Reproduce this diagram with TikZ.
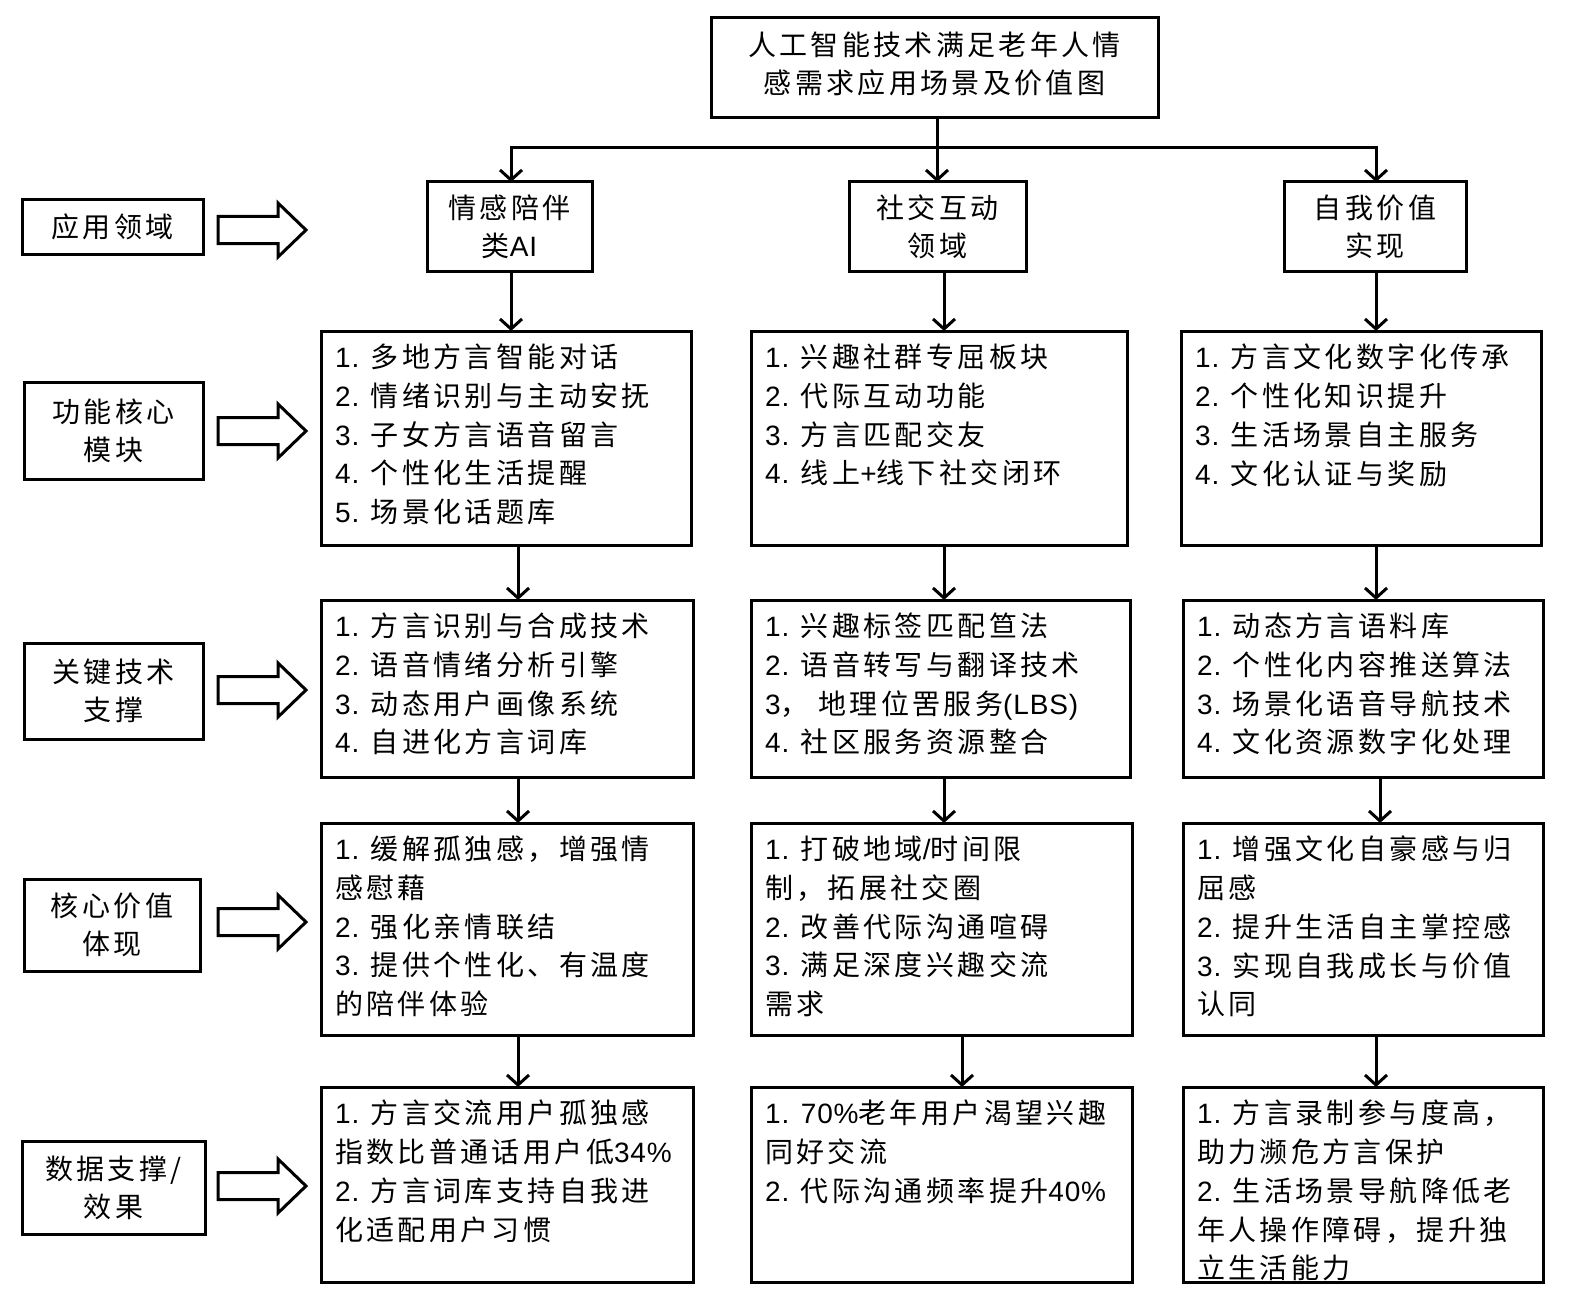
\documentclass[tikz,border=0pt]{standalone}
\usepackage{fontspec}
\setmainfont{Noto Sans CJK SC}[LetterSpace=12]
\newfontfamily\latfont{Liberation Sans}[LetterSpace=3]
\newcommand{\latn}[1]{{\latfont #1}}
\usetikzlibrary{arrows.meta}
\begin{document}
\begin{tikzpicture}[x=1pt,y=-1pt,
  box/.style={draw, line width=3pt, inner sep=0pt, outer sep=0pt},
  txt/.style={anchor=north west, inner sep=0pt, align=left, font=\fontsize{28}{38.7}\selectfont},
  ctr/.style={align=center, font=\fontsize{28}{38}\selectfont},
  arr/.style={line width=3pt, line join=miter, -{Straight Barb[length=10pt,width=22pt]}},
  barrow/.style={draw, line width=3pt, line join=miter}]
\fill[white] (0,0) rectangle (1571,1300);
\useasboundingbox (0,0) rectangle (1571,1300);

% column coordinates
\coordinate (ca1) at (511,0);
\coordinate (ca2) at (518,0);
\coordinate (cb1) at (937,0);
\coordinate (cb2) at (944,0);
\coordinate (cb3) at (962,0);
\coordinate (cc1) at (1376,0);
\coordinate (cc2) at (1380,0);
\coordinate (jy) at (0,148);

% title
\node[box, ctr, minimum width=447pt, minimum height=100pt, text depth=10pt] (title) at (934.5,68) {人工智能技术满足老年人情\\感需求应用场景及价值图};

% level 1
\node[box, ctr, minimum width=165pt, minimum height=89pt] (l1a) at (509.5,226.5) {情感陪伴\\类\latn{AI}};
\node[box, ctr, minimum width=177pt, minimum height=89pt] (l1b) at (937.5,226.5) {社交互动\\领域};
\node[box, ctr, minimum width=182pt, minimum height=89pt] (l1c) at (1375,226.5) {自我价值\\实现};

% left labels
\node[box, ctr, minimum width=181pt, minimum height=54pt] (la) at (112.5,227) {应用领域};
\node[box, ctr, minimum width=179pt, minimum height=97pt] (lb) at (113.5,430.5) {功能核心\\模块};
\node[box, ctr, minimum width=179pt, minimum height=96pt] (lc) at (113.5,691) {关键技术\\支撑};
\node[box, ctr, minimum width=176pt, minimum height=92pt] (ld) at (112,925) {核心价值\\体现};
\node[box, ctr, minimum width=183pt, minimum height=93pt] (le) at (113.5,1187.5) {数据支撑/\\效果};

% block arrows
\foreach \yy in {230,431,690,922,1186}{
  \draw[barrow] (218,\yy-13.5) -- (278,\yy-13.5) -- (278,\yy-27) -- (306,\yy)
     -- (278,\yy+27) -- (278,\yy+13.5) -- (218,\yy+13.5) -- cycle;
}

% level 2
\node[box, minimum width=370pt, minimum height=214pt] (l2a) at (506,438) {};
\node[box, minimum width=376pt, minimum height=214pt] (l2b) at (939,438) {};
\node[box, minimum width=360pt, minimum height=214pt] (l2c) at (1361,438) {};
\node[txt] (t2a) at ([xshift=14pt,yshift=-13pt]l2a.north west) {\latn{1. }多地方言智能对话\\\latn{2. }情绪识别与主动安抚\\\latn{3. }子女方言语音留言\\\latn{4. }个性化生活提醒\\\latn{5. }场景化话题库};
\node[txt] (t2b) at ([xshift=14pt,yshift=-13pt]l2b.north west) {\latn{1. }兴趣社群专屈板块\\\latn{2. }代际互动功能\\\latn{3. }方言匹配交友\\\latn{4. }线上\latn{+}线下社交闭环};
\node[txt] (t2c) at ([xshift=14pt,yshift=-13pt]l2c.north west) {\latn{1. }方言文化数字化传承\\\latn{2. }个性化知识提升\\\latn{3. }生活场景自主服务\\\latn{4. }文化认证与奖励};

% level 3
\node[box, minimum width=372pt, minimum height=177pt] (l3a) at (507,688.5) {};
\node[box, minimum width=379pt, minimum height=177pt] (l3b) at (940.5,688.5) {};
\node[box, minimum width=360pt, minimum height=177pt] (l3c) at (1363,688.5) {};
\node[txt] (t3a) at ([xshift=14pt,yshift=-13pt]l3a.north west) {\latn{1. }方言识别与合成技术\\\latn{2. }语音情绪分析引擎\\\latn{3. }动态用户画像系统\\\latn{4. }自进化方言词库};
\node[txt] (t3b) at ([xshift=14pt,yshift=-13pt]l3b.north west) {\latn{1. }兴趣标签匹配笪法\\\latn{2. }语音转写与翻译技术\\\latn{3}， 地理位罟服务\latn{(LBS)}\\\latn{4. }社区服务资源整合};
\node[txt] (t3c) at ([xshift=14pt,yshift=-13pt]l3c.north west) {\latn{1. }动态方言语料库\\\latn{2. }个性化内容推送算法\\\latn{3. }场景化语音导航技术\\\latn{4. }文化资源数字化处理};

% level 4
\node[box, minimum width=372pt, minimum height=212pt] (l4a) at (507,929) {};
\node[box, minimum width=381pt, minimum height=212pt] (l4b) at (941.5,929) {};
\node[box, minimum width=360pt, minimum height=212pt] (l4c) at (1363,929) {};
\node[txt] (t4a) at ([xshift=14pt,yshift=-13pt]l4a.north west) {\latn{1. }缓解孤独感，增强情\\感慰藉\\\latn{2. }强化亲情联结\\\latn{3. }提供个性化、有温度\\的陪伴体验};
\node[txt] (t4b) at ([xshift=14pt,yshift=-13pt]l4b.north west) {\latn{1. }打破地域\latn{/}时间限\\制，拓展社交圈\\\latn{2. }改善代际沟通喧碍\\\latn{3. }满足深度兴趣交流\\需求};
\node[txt] (t4c) at ([xshift=14pt,yshift=-13pt]l4c.north west) {\latn{1. }增强文化自豪感与归\\屈感\\\latn{2. }提升生活自主掌控感\\\latn{3. }实现自我成长与价值\\认同};

% level 5
\node[box, minimum width=372pt, minimum height=195pt] (l5a) at (507,1184.5) {};
\node[box, minimum width=381pt, minimum height=195pt] (l5b) at (941.5,1184.5) {};
\node[txt] (t5a) at ([xshift=14pt,yshift=-13pt]l5a.north west) {\latn{1. }方言交流用户孤独感\\指数比普通话用户低\latn{34\%}\\\latn{2. }方言词库支持自我进\\化适配用户习惯};
\node[txt] (t5b) at ([xshift=14pt,yshift=-13pt]l5b.north west) {\latn{1. 70\%}老年用户渴望兴趣\\同好交流\\\latn{2. }代际沟通频率提升\latn{40\%}};
\begin{scope}
\clip (1183,1087) rectangle (1543,1282);
\node[txt] (t5c) at (1197,1100) {\latn{1. }方言录制参与度高，\\助力濒危方言保护\\\latn{2. }生活场景导航降低老\\年人操作障碍，提升独\\立生活能力};
\end{scope}
\node[box, minimum width=360pt, minimum height=195pt] (l5c) at (1363,1184.5) {};

% connectors
\draw[arr] (title.south -| cb1) -- (l1b.north -| cb1);
\draw[arr] (cc1 |- jy) -- (ca1 |- jy) -- (l1a.north -| ca1);
\draw[arr] (ca1 |- jy) -- (cc1 |- jy) -- (l1c.north -| cc1);

\draw[arr] (l1a.south -| ca1) -- (l2a.north -| ca1);
\draw[arr] (l1b.south -| cb2) -- (l2b.north -| cb2);
\draw[arr] (l1c.south -| cc1) -- (l2c.north -| cc1);

\draw[arr] (l2a.south -| ca2) -- (l3a.north -| ca2);
\draw[arr] (l2b.south -| cb2) -- (l3b.north -| cb2);
\draw[arr] (l2c.south -| cc1) -- (l3c.north -| cc1);

\draw[arr] (l3a.south -| ca2) -- (l4a.north -| ca2);
\draw[arr] (l3b.south -| cb2) -- (l4b.north -| cb2);
\draw[arr] (l3c.south -| cc2) -- (l4c.north -| cc2);

\draw[arr] (l4a.south -| ca2) -- (l5a.north -| ca2);
\draw[arr] (l4b.south -| cb3) -- (l5b.north -| cb3);
\draw[arr] (l4c.south -| cc1) -- (l5c.north -| cc1);
\end{tikzpicture}
\end{document}
